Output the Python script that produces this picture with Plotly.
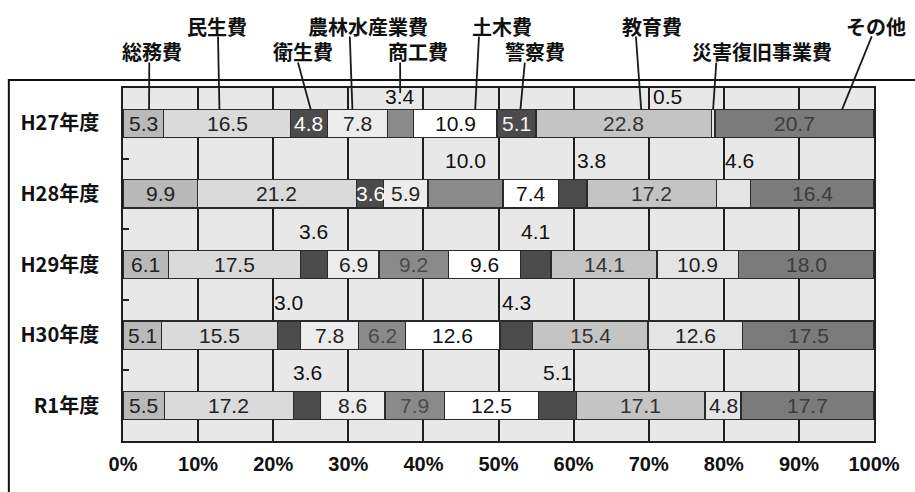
import plotly.graph_objects as go

# 年度と費目
years = ["H27年度", "H28年度", "H29年度", "H30年度", "R1年度"]
items = ["総務費", "民生費", "衛生費", "農林水産業費", "商工費",
         "土木費", "警察費", "教育費", "災害復旧事業費", "その他"]

# 構成比(%)
somu = [5.3, 9.9, 6.1, 5.1, 5.5]
minsei = [16.5, 21.2, 17.5, 15.5, 17.2]
eisei = [4.8, 3.6, 3.6, 3.0, 3.6]
norin = [7.8, 5.9, 6.9, 7.8, 8.6]
shoko = [3.4, 10.0, 9.2, 6.2, 7.9]
doboku = [10.9, 7.4, 9.6, 12.6, 12.5]
keisatsu = [5.1, 3.8, 4.1, 4.3, 5.1]
kyoiku = [22.8, 17.2, 14.1, 15.4, 17.1]
saigai = [0.5, 4.6, 10.9, 12.6, 4.8]
sonota = [20.7, 16.4, 18.0, 17.5, 17.7]

series = [somu, minsei, eisei, norin, shoko, doboku, keisatsu, kyoiku, saigai, sonota]

fills = ["#b9b9b9", "#dadada", "#4b4b4b", "#ececec", "#8a8a8a",
         "#ffffff", "#4b4b4b", "#c4c4c4", "#e4e4e4", "#7b7b7b"]
text_colors = ["#222", "#222", "#ffffff", "#222", "#4a4a4a",
               "#111", "#f2f2f2", "#333", "#222", "#3c3c3c"]

BAR_W = 0.4
NUM_FONT = "Liberation Sans, Arial, sans-serif"
JP_FONT = "Noto Sans CJK JP, sans-serif"
N = len(years)


def row_to_paper(idx):
    """行番号(上から0)を paper 座標の y に変換する。"""
    return 1 - (idx + 0.5) / N


fig = go.Figure()
for name, vals, col in zip(items, series, fills):
    fig.add_trace(go.Bar(
        y=years, x=vals, name=name, orientation="h", width=BAR_W,
        marker=dict(color=col, line=dict(color="#2a2a2a", width=1.3)),
        hoverinfo="skip",
    ))

# 各年度の合計で正規化した累積位置(barnorm="percent" と同じ尺度)
totals = [sum(s[i] for s in series) for i in range(N)]
starts = []
for i in range(N):
    acc = 0.0
    row = []
    for s in series:
        share = s[i] / totals[i] * 100
        row.append((acc, acc + share))
        acc += share
    starts.append(row)

# バーの上(帯の中)に置く数値ラベル: (年度, 費目) -> 横方向のずらし(px)
above = {
    (0, "商工費"): 0, (0, "災害復旧事業費"): -46,
    (1, "商工費"): 0, (1, "警察費"): 19, (1, "災害復旧事業費"): 6,
    (2, "衛生費"): 0, (2, "警察費"): 0,
    (3, "衛生費"): 0, (3, "警察費"): 0,
    (4, "衛生費"): 0, (4, "警察費"): 0,
}

annotations = []
for i in range(N):
    for k, name in enumerate(items):
        a, b = starts[i][k]
        label = f"{series[k][i]:.1f}"
        mid = (a + b) / 2
        if (i, name) in above:
            annotations.append(dict(
                x=mid, y=i, xref="x", yref="y", text=label, showarrow=False,
                xshift=above[(i, name)], yshift=27 if i == 0 else 33,
                font=dict(family=NUM_FONT, size=21, color="#111"),
            ))
        else:
            annotations.append(dict(
                x=mid, y=i, xref="x", yref="y", text=label, showarrow=False,
                font=dict(family=NUM_FONT, size=21, color=text_colors[k]),
            ))

# 凡例代わりの引き出し線付き費目名
# (費目, 文字のx[%], 文字のy[行番号], 線の始点x[%], 線の始点y, 区間内の位置, 線の終点y)
callouts = [
    ("総務費", 3.9, -1.01, 3.5, -0.86, 0.64, -BAR_W / 2),
    ("民生費", 12.5, -1.37, 12.65, -1.23, 0.44, -BAR_W / 2),
    ("衛生費", 24.0, -1.01, 23.3, -0.86, 0.55, -BAR_W / 2),
    ("農林水産業費", 32.6, -1.37, 30.2, -1.23, 0.42, -BAR_W / 2),
    ("商工費", 39.3, -1.01, 36.9, -0.86, 0.5, -0.43),
    ("土木費", 50.5, -1.37, 47.4, -1.23, 0.74, -BAR_W / 2),
    ("警察費", 54.9, -1.01, 53.5, -0.86, 0.6, -BAR_W / 2),
    ("教育費", 70.4, -1.37, 68.3, -1.23, 0.6, -BAR_W / 2),
    ("災害復旧事業費", 85.1, -1.01, 79.0, -0.86, 0.5, -BAR_W / 2),
    ("その他", 100.3, -1.37, 99.7, -1.23, 0.8, -BAR_W / 2),
]

shapes = []
for name, tx, ty, sx, sy, frac, ey in callouts:
    k = items.index(name)
    a, b = starts[0][k]
    annotations.append(dict(
        x=tx / 100, y=row_to_paper(ty), xref="paper", yref="paper",
        xanchor="center", yanchor="middle",
        text=f"<b>{name}</b>", showarrow=False,
        font=dict(family=JP_FONT, size=20, color="#111"),
    ))
    shapes.append(dict(
        type="line", xref="x", yref="paper",
        x0=sx, y0=row_to_paper(sy), x1=a + frac * (b - a), y1=row_to_paper(ey),
        line=dict(color="#1a1a1a", width=1.8),
    ))

# グラフ全体を囲む枠
shapes.append(dict(
    type="rect", xref="paper", yref="paper", x0=-0.152, x1=1.2, y0=-0.3, y1=1.023,
    line=dict(color="#111", width=2), fillcolor="rgba(0,0,0,0)", layer="below",
))

fig.update_layout(
    width=915, height=492,
    margin=dict(l=123, r=41, t=88, b=51),
    barmode="stack", barnorm="percent",
    showlegend=False,
    paper_bgcolor="#ffffff", plot_bgcolor="#e8e8e8",
    annotations=annotations, shapes=shapes,
    hovermode=False,
)
fig.update_xaxes(
    range=[0, 100], tickvals=list(range(0, 101, 10)),
    ticktext=[f"{v}%" for v in range(0, 101, 10)],
    showgrid=True, gridcolor="#1e1e1e", gridwidth=1.6,
    showline=True, mirror=True, linecolor="#1e1e1e", linewidth=1.6,
    ticks="", ticklabelstandoff=4, zeroline=False,
    tickfont=dict(family=NUM_FONT, size=20, color="#111", weight="bold"),
)
fig.update_yaxes(
    type="category", categoryorder="array", categoryarray=years,
    range=[N - 0.5, -0.5], autorange=False,
    showline=True, mirror=True, linecolor="#1e1e1e", linewidth=1.6,
    ticks="inside", tickson="boundaries", ticklen=6, tickwidth=1.5, tickcolor="#1e1e1e",
    showgrid=False, ticklabelstandoff=18,
    tickfont=dict(family=JP_FONT, size=20, color="#111", weight="bold"),
)

fig.write_html("out.html")
